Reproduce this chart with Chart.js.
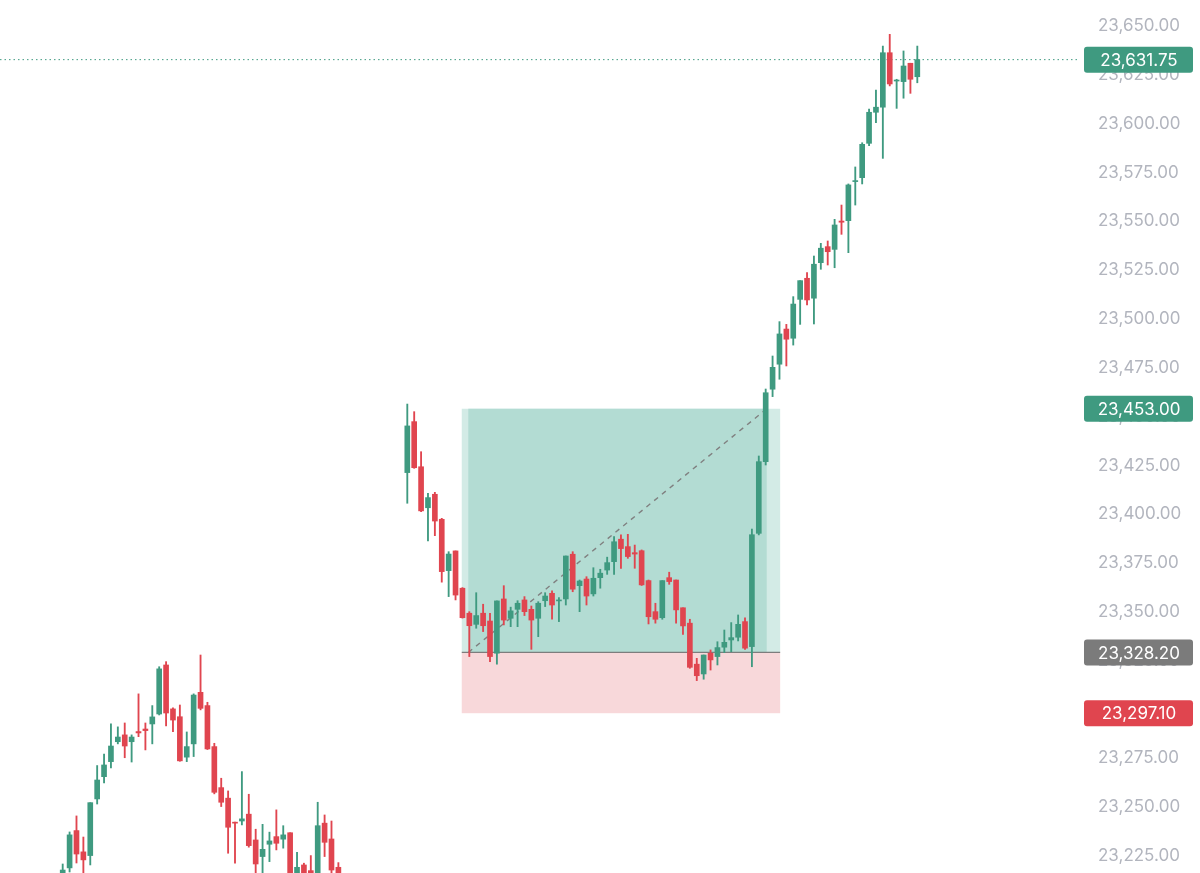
<!DOCTYPE html>
<html><head><meta charset="utf-8">
<script src="https://cdn.jsdelivr.net/npm/chart.js@4.4.0/dist/chart.umd.min.js"></script>
<style>html,body{margin:0;padding:0;background:#fff;overflow:hidden}canvas{display:block}</style>
</head><body>
<canvas id="c" width="1200" height="873"></canvas>
<script>
// ---- DATA (index 41..49 is a gap with no candles) ----
const opens = [23211.7,23217.9,23237.0,23226.1,23224.2,23253.2,23264.6,23272.3,23282.5,23286.0,
23282.5,23287.7,23289.0,23291.6,23296.7,23321.8,23299.3,23295.3,23274.6,23281.4,
23307.8,23301.0,23280.0,23259.0,23253.6,23241.3,23241.9,23245.4,23232.2,23223.7,
23230.0,23233.9,23232.6,23235.9,23212.0,23219.4,23216.5,23213.0,23240.8,23232.7,
23218.2,null,null,null,null,null,null,null,null,null,
23420.3,23446.4,23423.3,23402.3,23409.2,23396.4,23370.1,23380.2,23361.1,23348.3,
23342.6,23348.3,23344.3,23327.8,23355.6,23345.7,23350.3,23355.1,23350.3,23345.7,
23354.7,23358.5,23354.6,23355.6,23378.5,23362.4,23365.8,23358.2,23366.5,23370.4,
23374.7,23386.2,23382.4,23379.3,23380.3,23365.0,23349.1,23346.0,23366.5,23365.3,
23351.1,23343.2,23322.2,23317.2,23327.8,23326.1,23330.9,23334.6,23336.0,23344.0,
23331.2,23389.2,23425.9,23463.0,23475.8,23493.8,23489.1,23509.0,23519.8,23509.6,
23527.8,23536.0,23534.6,23549.1,23549.3,23569.3,23571.3,23588.9,23604.8,23607.4,
23635.3,23620.8,23620.5,23629.9,23623.0];
const highs = [23219.9,23236.3,23244.5,23233.7,23251.3,23270.3,23276.2,23291.6,23290.1,23292.1,
23286.0,23307.0,23292.1,23301.0,23320.9,23323.5,23299.9,23301.3,23287.5,23307.0,
23326.9,23302.7,23281.7,23263.8,23257.3,23241.3,23267.2,23255.6,23237.7,23240.2,
23236.2,23247.6,23239.5,23235.9,23225.9,23220.3,23224.2,23251.5,23245.0,23241.9,
23220.6,null,null,null,null,null,null,null,null,null,
23455.4,23451.5,23431.0,23409.7,23410.2,23396.9,23379.8,23380.2,23361.4,23349.1,
23358.8,23352.9,23348.3,23354.6,23362.4,23351.4,23354.7,23356.8,23352.0,23354.2,
23358.8,23359.7,23356.3,23377.6,23379.8,23365.3,23367.0,23371.6,23370.8,23377.0,
23387.5,23388.4,23388.7,23383.2,23380.7,23365.3,23353.4,23365.0,23369.3,23365.3,
23351.1,23345.2,23325.2,23326.9,23329.5,23333.7,23339.7,23343.5,23347.4,23346.0,
23391.4,23428.8,23463.1,23480.0,23497.6,23496.2,23510.4,23518.6,23522.7,23531.2,
23537.7,23538.9,23550.0,23557.3,23568.1,23576.8,23589.2,23606.5,23616.2,23638.7,
23644.7,23621.7,23636.2,23629.9,23638.7];
const lows = [23209.2,23215.8,23220.4,23212.8,23219.4,23250.6,23261.4,23269.1,23281.4,23274.3,
23272.1,23285.1,23278.3,23281.4,23296.2,23290.6,23287.7,23272.5,23272.3,23274.9,
23298.8,23278.5,23255.8,23249.3,23225.4,23220.3,23239.9,23228.5,23213.8,23211.7,
23221.1,23227.1,23228.0,23210.0,23210.0,23212.0,23211.0,23211.0,23223.7,23213.0,
23211.0,null,null,null,null,null,null,null,null,null,
23404.6,23422.5,23400.3,23385.3,23388.0,23364.2,23356.8,23355.1,23345.8,23326.1,
23340.6,23338.9,23323.5,23322.2,23342.3,23341.4,23341.4,23347.1,23329.8,23336.3,
23351.7,23345.2,23344.0,23352.5,23359.3,23349.1,23352.5,23357.1,23361.1,23368.2,
23368.2,23371.3,23376.4,23371.3,23362.5,23342.8,23343.2,23345.2,23363.1,23343.2,
23337.5,23320.1,23313.8,23314.5,23319.2,23321.8,23328.1,23328.6,23334.1,23329.8,
23320.9,23388.4,23424.2,23459.2,23468.1,23474.9,23485.6,23496.2,23506.1,23496.4,
23524.4,23526.6,23525.2,23542.3,23532.9,23557.3,23568.1,23587.7,23599.5,23581.2,
23618.3,23606.8,23612.0,23614.5,23619.9];
const closes = [23216.8,23234.8,23225.0,23222.0,23251.3,23262.9,23270.6,23280.3,23284.9,23280.3,
23284.9,23287.0,23288.2,23295.2,23319.8,23297.2,23293.6,23272.7,23280.0,23306.4,
23299.6,23278.8,23256.6,23251.5,23238.7,23240.8,23243.0,23229.3,23219.9,23227.4,
23231.7,23230.5,23234.8,23211.7,23218.2,23214.0,23213.0,23239.5,23231.0,23216.8,
23213.0,null,null,null,null,null,null,null,null,null,
23444.2,23422.8,23400.7,23407.5,23395.5,23369.6,23378.6,23357.6,23346.0,23341.9,
23347.1,23341.9,23326.1,23354.6,23344.8,23349.5,23353.4,23349.1,23344.8,23353.4,
23357.1,23352.5,23355.1,23377.6,23360.6,23364.8,23357.1,23366.2,23368.8,23374.2,
23384.9,23381.4,23377.3,23378.6,23362.8,23346.5,23345.2,23365.0,23364.5,23350.0,
23341.8,23320.6,23316.3,23326.9,23324.4,23330.7,23333.4,23335.8,23342.6,23330.4,
23388.5,23425.9,23461.2,23474.2,23491.3,23488.6,23506.6,23518.6,23508.7,23527.0,
23535.2,23533.4,23547.1,23548.5,23567.6,23569.8,23588.4,23604.8,23607.4,23635.3,
23619.3,23621.3,23628.5,23621.7,23631.75];
const yTicks = [23225,23250,23275,23300,23325,23350,23375,23400,23425,23450,23475,23500,23525,23550,23575,23600,23625,23650];
const lastPrice = 23631.75, targetPrice = 23453.00, entryPrice = 23328.20, stopPrice = 23297.10;
const posStart = 57.9, posFillStart = 58.85, posFillEnd = 102.15, posEnd = 104.1; // bar indices

// ---- view / style ----
const GREEN = '#3f9a80', RED = '#e0454f', GRAY = '#7b7b7b';
const X_MIN = -9.0975, X_MAX = 147.606;
const Y_MIN = 23215.28, Y_MAX = 23662.29;
const FONT = 'Inter, "Open Sans", sans-serif';
const fmt = v => Number(v).toLocaleString('en-US', {minimumFractionDigits: 2, maximumFractionDigits: 2});

const idx = opens.map((_, i) => i).filter(i => opens[i] !== null);
const wickData = idx.map(i => ({x: i, y: [lows[i], highs[i]]}));
const bodyData = idx.map(i => ({x: i, y: [opens[i], closes[i]]}));
const cols = idx.map(i => closes[i] >= opens[i] ? GREEN : RED);

const overlay = {
  id: 'overlay',
  beforeDatasetsDraw(chart) {
    const {ctx, chartArea, scales: {x, y}} = chart;
    const x0 = x.getPixelForValue(posStart), x1 = x.getPixelForValue(posEnd);
    const fx0 = x.getPixelForValue(posFillStart), fx1 = x.getPixelForValue(posFillEnd);
    const yt = y.getPixelForValue(targetPrice), ye = y.getPixelForValue(entryPrice), ys = y.getPixelForValue(stopPrice);
    ctx.save();
    ctx.fillStyle = '#f8d8da'; ctx.fillRect(x0, ye, x1 - x0, ys - ye);
    ctx.fillStyle = '#d3ebe6'; ctx.fillRect(x0, yt, x1 - x0, ye - yt);
    ctx.fillStyle = '#b3dcd3'; ctx.fillRect(fx0, yt, fx1 - fx0, ye - yt);
    ctx.strokeStyle = '#7d7d7d'; ctx.lineWidth = 1.2;
    ctx.beginPath(); ctx.moveTo(x0, ye); ctx.lineTo(x1, ye); ctx.stroke();
    ctx.strokeStyle = '#808080'; ctx.lineWidth = 1.4; ctx.setLineDash([5, 5]);
    ctx.beginPath(); ctx.moveTo(fx0, ye); ctx.lineTo(fx1, yt); ctx.stroke();
    const yl = y.getPixelForValue(lastPrice);
    ctx.strokeStyle = GREEN; ctx.lineWidth = 1; ctx.setLineDash([1.5, 3]);
    ctx.beginPath(); ctx.moveTo(chartArea.left, yl); ctx.lineTo(chartArea.right, yl); ctx.stroke();
    ctx.restore();
  },
  afterDraw(chart) {
    const {ctx, scales: {y}} = chart;
    const tags = [[lastPrice, GREEN], [targetPrice, GREEN], [entryPrice, GRAY], [stopPrice, RED]];
    ctx.save();
    ctx.font = '17px ' + FONT;
    ctx.textAlign = 'center'; ctx.textBaseline = 'middle';
    tags.forEach(([v, c]) => {
      const yy = y.getPixelForValue(v);
      ctx.fillStyle = c;
      ctx.beginPath(); ctx.roundRect(1084, yy - 13, 109, 26, 3); ctx.fill();
      ctx.fillStyle = '#ffffff';
      ctx.fillText(fmt(v), 1139, yy + 1);
    });
    ctx.restore();
  }
};

new Chart(document.getElementById('c'), {
  type: 'bar',
  data: {
    datasets: [
      {data: bodyData, backgroundColor: cols, barThickness: 5, minBarLength: 1, grouped: false, borderWidth: 0, borderSkipped: false},
      {data: wickData, backgroundColor: cols, barThickness: 1.2, grouped: false, borderWidth: 0, borderSkipped: false}
    ]
  },
  options: {
    responsive: false, animation: false, devicePixelRatio: 1,
    layout: {padding: 0},
    plugins: {legend: {display: false}, tooltip: {enabled: false}},
    scales: {
      x: {type: 'linear', display: false, min: X_MIN, max: X_MAX, offset: false},
      y: {
        type: 'linear', position: 'right', min: Y_MIN, max: Y_MAX,
        grid: {display: false, drawTicks: false}, border: {display: false},
        ticks: {color: '#b2b5be', font: {family: FONT, size: 17}, padding: 18, crossAlign: 'near', autoSkip: false,
                labelOffset: 2, callback: v => fmt(v)},
        afterBuildTicks: s => { s.ticks = yTicks.map(v => ({value: v})); },
        afterFit: s => { s.width = 120; s.paddingTop = 0; s.paddingBottom = 0; }
      }
    }
  },
  plugins: [overlay]
});
</script>
</body></html>
